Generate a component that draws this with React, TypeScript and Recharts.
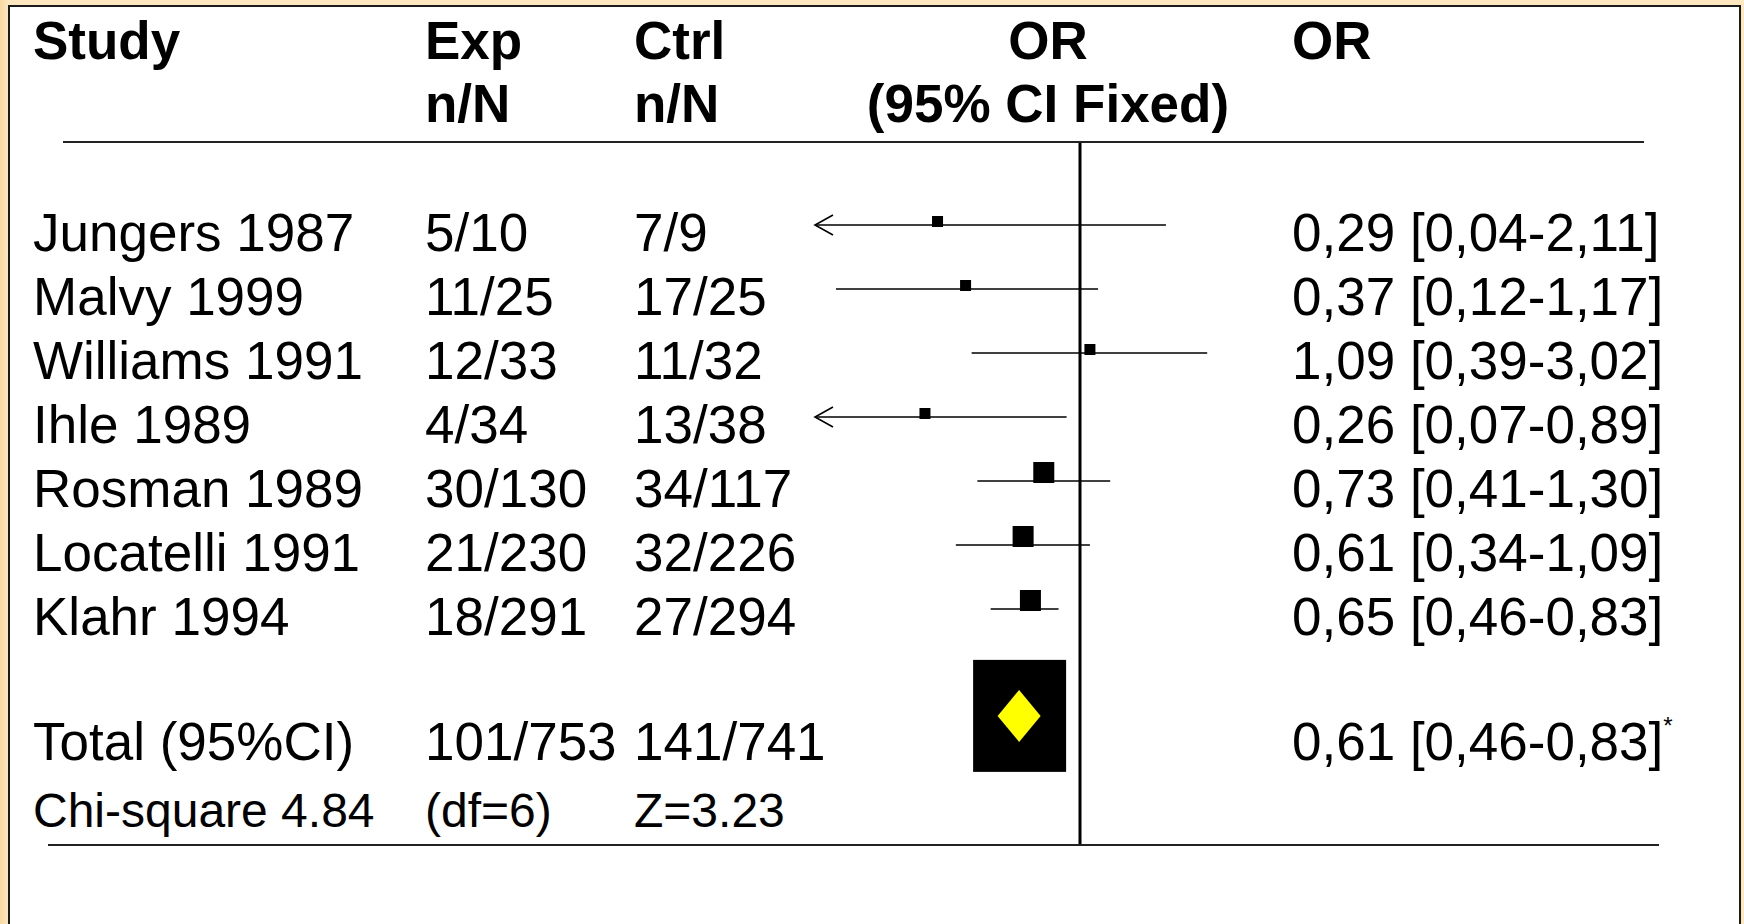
import React from "react";
import {
  ComposedChart,
  Scatter,
  XAxis,
  YAxis,
  ReferenceLine,
} from "recharts";

// table columns
const studies = [
  "Jungers 1987",
  "Malvy 1999",
  "Williams 1991",
  "Ihle 1989",
  "Rosman 1989",
  "Locatelli 1991",
  "Klahr 1994",
];
const expEvents = [5, 11, 12, 4, 30, 21, 18];
const expTotal = [10, 25, 33, 34, 130, 230, 291];
const ctrlEvents = [7, 17, 11, 13, 34, 32, 27];
const ctrlTotal = [9, 25, 32, 38, 117, 226, 294];

// odds ratios with 95% CI
const oddsRatio = [0.29, 0.37, 1.09, 0.26, 0.73, 0.61, 0.65];
const ciLow = [0.04, 0.12, 0.39, 0.07, 0.41, 0.34, 0.46];
const ciHigh = [2.11, 1.17, 3.02, 0.89, 1.3, 1.09, 0.83];

// pooled result
const totalLabel = "Total (95%CI)";
const totalExp = "101/753";
const totalCtrl = "141/741";
const totalOR = 0.61;
const totalLow = 0.46;
const totalHigh = 0.83;
const statsRow = ["Chi-square 4.84", "(df=6)", "Z=3.23"];

const X_MIN = 0.1;
const X_MAX = 10;
const TOTAL_ROW = 8.67;

const fmt = (v: number) => v.toFixed(2).replace(".", ",");

const points = studies.map((name, i) => ({
  name,
  or: oddsRatio[i],
  row: i + 1,
  n: expTotal[i] + ctrlTotal[i],
}));

const totalPoint = [{ name: "Total", or: totalOR, row: TOTAL_ROW }];

const FONT = "'Liberation Sans', Arial, Helvetica, sans-serif";

const StudySquare = (props: any) => {
  const { cx, cy, payload } = props;
  const s = payload.n > 200 ? 21 : 11;
  return <rect x={cx - s / 2} y={cy - s + 2} width={s} height={s} fill="#000" />;
};

const TotalBox = (props: any) => {
  const { cx, cy } = props;
  return (
    <g>
      <rect x={cx - 50} y={cy - 56} width={93} height={112} fill="#000" />
      <polygon
        points={`${cx - 4},${cy - 26} ${cx + 17.5},${cy} ${cx - 4},${cy + 26} ${cx - 25.5},${cy}`}
        fill="#FFFF00"
      />
    </g>
  );
};

const ciShape = (arrow: boolean) => (props: any) => {
  const { x1, y1, x2, y2 } = props;
  return (
    <g>
      <line x1={x1} y1={y1} x2={x2} y2={y2} stroke="#000" strokeWidth={1.6} />
      {arrow && (
        <polyline
          points={`${x1 + 18},${y1 - 10} ${x1},${y1} ${x1 + 18},${y1 + 10}`}
          fill="none"
          stroke="#000"
          strokeWidth={1.6}
        />
      )}
    </g>
  );
};

const colX = [33, 425, 634, 1292];
const rowBase = (i: number) => 251 + 64 * i;

export default function App() {
  return (
    <div
      style={{
        position: "relative",
        width: 1744,
        height: 924,
        overflow: "hidden",
        background: "linear-gradient(to right, #F8D9A0 0px, #FCE7BE 8px, #FCE7BE 100%)",
      }}
    >
      <style>{"body{margin:0}"}</style>
      <div
        style={{
          position: "absolute",
          left: 8,
          top: 5,
          width: 1733,
          height: 940,
          boxSizing: "border-box",
          border: "2px solid #1a1a1a",
          background: "#fff",
        }}
      />
      <div style={{ position: "absolute", left: 0, top: 0 }}>
        <ComposedChart
          width={1744}
          height={924}
          margin={{ top: 161, right: 399, bottom: 59, left: 815 }}
        >
          <XAxis
            type="number"
            dataKey="or"
            scale="log"
            domain={[X_MIN, X_MAX]}
            allowDataOverflow
            hide
          />
          <YAxis type="number" dataKey="row" domain={[0, 11]} reversed hide />
          <ReferenceLine
            segment={[
              { x: 1, y: -0.3 },
              { x: 1, y: 10.69 },
            ]}
            stroke="#000"
            strokeWidth={3}
            ifOverflow="visible"
          />
          {points.map((p, i) => (
            <ReferenceLine
              key={p.name}
              segment={[
                { x: Math.max(ciLow[i], X_MIN), y: p.row },
                { x: ciHigh[i], y: p.row },
              ]}
              ifOverflow="visible"
              shape={ciShape(ciLow[i] < X_MIN)}
            />
          ))}
          <Scatter data={points} shape={StudySquare} isAnimationActive={false} />
          <Scatter data={totalPoint} shape={TotalBox} isAnimationActive={false} />
        </ComposedChart>
      </div>
      <svg
        width={1744}
        height={924}
        style={{ position: "absolute", left: 0, top: 0, pointerEvents: "none" }}
        fontFamily={FONT}
      >
        <g fontWeight="bold" fontSize={53} fill="#000">
          <text x={colX[0]} y={59}>Study</text>
          <text x={colX[1]} y={59}>Exp</text>
          <text x={colX[1]} y={122}>n/N</text>
          <text x={colX[2]} y={59}>Ctrl</text>
          <text x={colX[2]} y={122}>n/N</text>
          <text x={1048} y={59} textAnchor="middle">OR</text>
          <text x={1048} y={122} textAnchor="middle">(95% CI Fixed)</text>
          <text x={colX[3]} y={59}>OR</text>
        </g>
        <line x1={63} y1={142} x2={1644} y2={142} stroke="#222" strokeWidth={2} />
        <g fontSize={53} fill="#000">
          {studies.map((s, i) => (
            <g key={s}>
              <text x={colX[0]} y={rowBase(i)}>{s}</text>
              <text x={colX[1]} y={rowBase(i)}>{`${expEvents[i]}/${expTotal[i]}`}</text>
              <text x={colX[2]} y={rowBase(i)}>{`${ctrlEvents[i]}/${ctrlTotal[i]}`}</text>
              <text x={colX[3]} y={rowBase(i)}>
                {`${fmt(oddsRatio[i])} [${fmt(ciLow[i])}-${fmt(ciHigh[i])}]`}
              </text>
            </g>
          ))}
          <text x={colX[0]} y={760}>{totalLabel}</text>
          <text x={colX[1]} y={760}>{totalExp}</text>
          <text x={colX[2]} y={760}>{totalCtrl}</text>
          <text x={colX[3]} y={760}>
            {`${fmt(totalOR)} [${fmt(totalLow)}-${fmt(totalHigh)}]`}
            <tspan fontSize={24} dy={-26}>*</tspan>
          </text>
        </g>
        <g fontSize={48} fill="#000">
          <text x={colX[0]} y={827}>{statsRow[0]}</text>
          <text x={colX[1]} y={827}>{statsRow[1]}</text>
          <text x={colX[2]} y={827}>{statsRow[2]}</text>
        </g>
        <line x1={48} y1={845} x2={1659} y2={845} stroke="#222" strokeWidth={2} />
      </svg>
    </div>
  );
}
